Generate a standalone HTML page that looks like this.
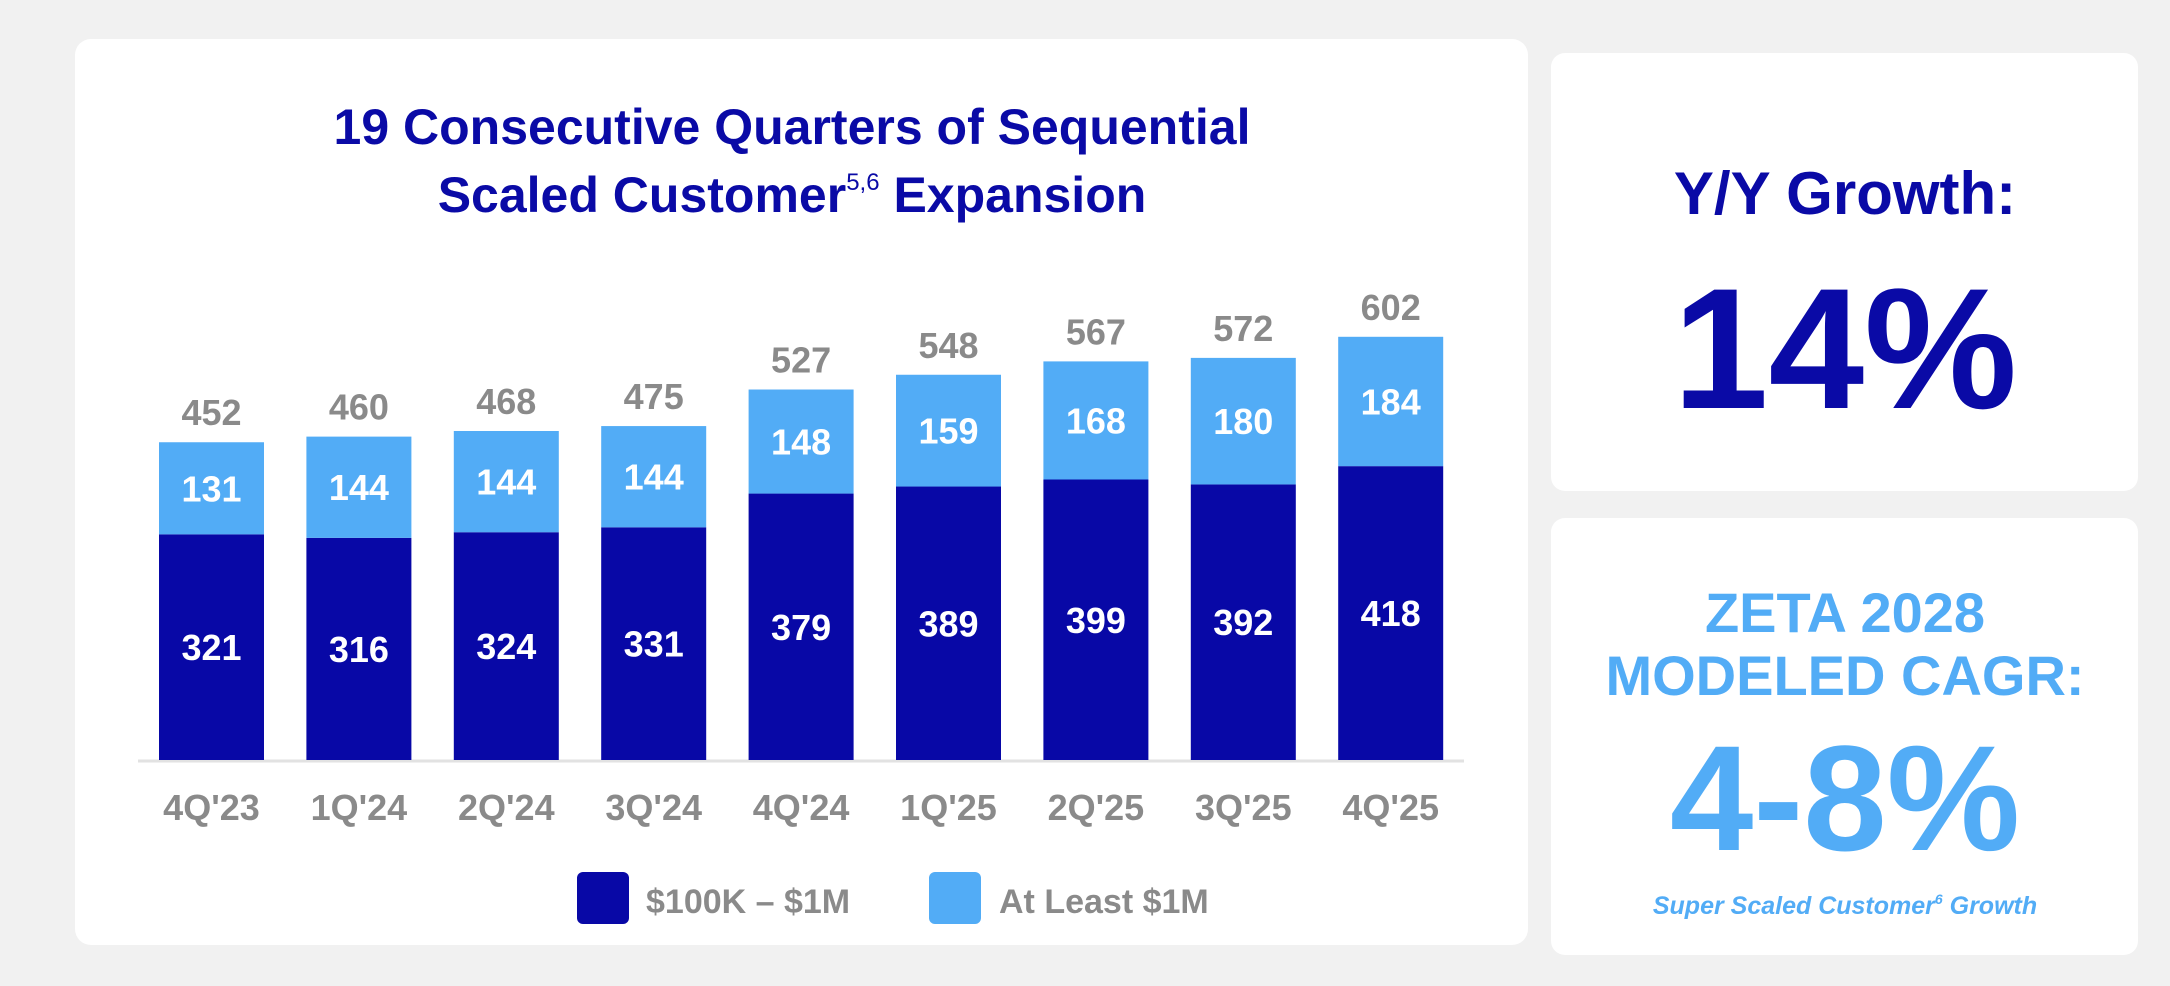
<!DOCTYPE html>
<html><head><meta charset="utf-8"><style>
html,body{margin:0;padding:0;background:#f1f1f1;width:2170px;height:986px;overflow:hidden;font-family:"Liberation Sans",sans-serif}
</style></head><body>
<svg width="2170" height="986" xmlns="http://www.w3.org/2000/svg" font-family="Liberation Sans, sans-serif" font-weight="bold">
<rect x="75" y="39" width="1453" height="906" rx="16" fill="#fff"/>
<rect x="1551" y="53" width="587" height="438" rx="14" fill="#fff"/>
<rect x="1551" y="518" width="587" height="437" rx="14" fill="#fff"/>
<text x="792" y="144" text-anchor="middle" font-size="50" fill="#0a0aa6">19 Consecutive Quarters of Sequential</text>
<text x="792" y="212" text-anchor="middle" font-size="50" fill="#0a0aa6">Scaled Customer<tspan font-size="24" dy="-22" font-weight="normal">5,6</tspan><tspan dy="22"> Expansion</tspan></text>
<line x1="138" y1="761" x2="1464" y2="761" stroke="#e2e2e2" stroke-width="3"/>
<g id="bars"></g>
<rect x="577" y="872" width="52" height="52" rx="6" fill="#0808a6"/>
<text x="646" y="913" font-size="34" fill="#8a8a8a">$100K – $1M</text>
<rect x="929" y="872" width="52" height="52" rx="6" fill="#52acf6"/>
<text x="999" y="913" font-size="34" fill="#8a8a8a">At Least $1M</text>
<text x="1845" y="214" text-anchor="middle" font-size="60" fill="#0a0aa6">Y/Y Growth:</text>
<text x="1845" y="408" text-anchor="middle" font-size="172" fill="#0a0aa6">14%</text>
<text x="1845" y="632" text-anchor="middle" font-size="56" fill="#52acf6">ZETA 2028</text>
<text x="1845" y="695" text-anchor="middle" font-size="56" fill="#52acf6">MODELED CAGR:</text>
<text x="1845" y="850" text-anchor="middle" font-size="150" fill="#52acf6">4-8%</text>
<text x="1845" y="914" text-anchor="middle" font-size="25" font-style="italic" fill="#52acf6">Super Scaled Customer<tspan font-size="14" dy="-10">6</tspan><tspan dy="10"> Growth</tspan></text>
</svg>
<script>
const categories=["4Q'23","1Q'24","2Q'24","3Q'24","4Q'24","1Q'25","2Q'25","3Q'25","4Q'25"];
const midValues=[321,316,324,331,379,389,399,392,418];
const largeValues=[131,144,144,144,148,159,168,180,184];
const totals=[452,460,468,475,527,548,567,572,602];
const NS="http://www.w3.org/2000/svg";
const g=document.getElementById('bars');
const baseY=760, k=0.703, x0=159, step=147.4, bw=105;
const xs=i=>x0+i*step;
const ys=v=>v*k;
function mk(tag,attrs,txt){const e=document.createElementNS(NS,tag);for(const a in attrs)e.setAttribute(a,attrs[a]);if(txt!=null)e.textContent=txt;g.appendChild(e);return e;}
categories.forEach((c,i)=>{
  const x=xs(i);
  const hm=ys(midValues[i]), hl=ys(largeValues[i]);
  let e=mk('rect',{x:x,y:baseY-hm,width:bw,height:hm,fill:'#0808a6'});
  
  
  e=mk('rect',{x:x,y:baseY-hm-hl,width:bw,height:hl,fill:'#52acf6'});
  
  
  e=mk('text',{x:x+bw/2,y:baseY-hm/2+13,'text-anchor':'middle','font-size':36,fill:'#fff'},midValues[i]);
  
  
  e=mk('text',{x:x+bw/2,y:baseY-hm-hl/2+13,'text-anchor':'middle','font-size':36,fill:'#fff'},largeValues[i]);
  
  
  e=mk('text',{x:x+bw/2,y:baseY-ys(totals[i])-17,'text-anchor':'middle','font-size':36,fill:'#8a8a8a'},totals[i]);
  
  
  e=mk('text',{x:x+bw/2,y:820,'text-anchor':'middle','font-size':36,fill:'#8a8a8a'},c);
  
  
});
</script>
</body></html>
